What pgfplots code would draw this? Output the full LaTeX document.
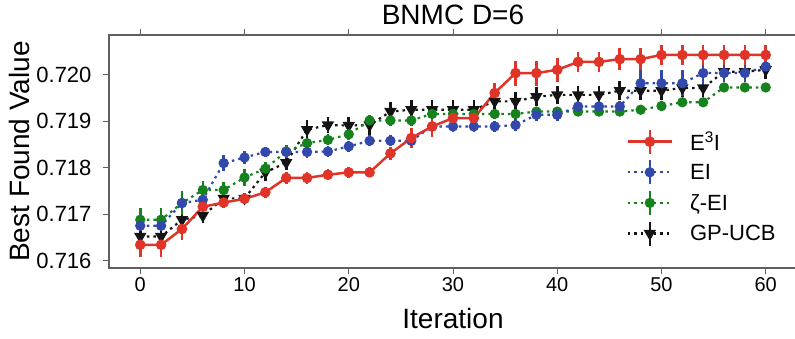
\documentclass[border=0pt]{standalone}
\usepackage{fontspec}
\setmainfont{Liberation Sans}
\usepackage{pgfplots}
\usepackage{pgfplotstable}
\pgfplotsset{compat=1.18}
\definecolor{cred}{RGB}{224,52,40}
\definecolor{cblue}{RGB}{50,72,170}
\definecolor{cgreen}{RGB}{22,130,30}
\definecolor{cblk}{RGB}{20,20,20}
\definecolor{axisgray}{RGB}{95,95,95}

\pgfplotstableread{
x y e
0 0.71634 0.00026
2 0.71634 0.00026
4 0.71668 0.00023
6 0.71716 0.00012
8 0.71725 0.00012
10 0.71733 0.00012
12 0.71747 0.00012
14 0.71778 0.00012
16 0.71778 0.00012
18 0.71785 0.00012
20 0.71790 0.00012
22 0.71790 0.00011
24 0.71831 0.00014
26 0.71864 0.00022
28 0.71889 0.00022
30 0.71907 0.00012
32 0.71907 0.00012
34 0.71961 0.00022
36 0.72004 0.00027
38 0.72004 0.00027
40 0.72011 0.00026
42 0.72028 0.00022
44 0.72028 0.00022
46 0.72034 0.00023
48 0.72034 0.00023
50 0.72043 0.00021
52 0.72043 0.00021
54 0.72043 0.00021
56 0.72043 0.00021
58 0.72043 0.00021
60 0.72043 0.00021
}\eei

\pgfplotstableread{
x y e
0 0.71675 0.00010
2 0.71675 0.00010
4 0.71724 0.00012
6 0.71731 0.00012
8 0.71810 0.00018
10 0.71822 0.00015
12 0.71834 0.00010
14 0.71834 0.00010
16 0.71834 0.00012
18 0.71835 0.00012
20 0.71846 0.00012
22 0.71858 0.00012
24 0.71858 0.00012
26 0.71858 0.00012
28 0.71889 0.00012
30 0.71889 0.00012
32 0.71889 0.00012
34 0.71889 0.00012
36 0.71892 0.00012
38 0.71914 0.00014
40 0.71914 0.00014
42 0.71932 0.00014
44 0.71932 0.00012
46 0.71932 0.00012
48 0.71982 0.00028
50 0.71982 0.00028
52 0.71982 0.00028
54 0.72004 0.00028
56 0.72004 0.00020
58 0.72004 0.00020
60 0.72018 0.00015
}\ei

\pgfplotstableread{
x y e
0 0.71688 0.00025
2 0.71688 0.00025
4 0.71724 0.00025
6 0.71752 0.00020
8 0.71752 0.00018
10 0.71779 0.00018
12 0.71798 0.00015
14 0.71835 0.00015
16 0.71853 0.00012
18 0.71860 0.00012
20 0.71872 0.00012
22 0.71902 0.00012
24 0.71902 0.00012
26 0.71902 0.00012
28 0.71916 0.00010
30 0.71916 0.00010
32 0.71916 0.00010
34 0.71916 0.00010
36 0.71916 0.00010
38 0.71921 0.00010
40 0.71921 0.00010
42 0.71921 0.00010
44 0.71921 0.00010
46 0.71921 0.00010
48 0.71925 0.00010
50 0.71933 0.00010
52 0.71941 0.00010
54 0.71941 0.00010
56 0.71973 0.00010
58 0.71973 0.00010
60 0.71973 0.00010
}\zei

\pgfplotstableread{
x y e
0 0.71652 0.00014
2 0.71652 0.00014
4 0.71688 0.00015
6 0.71697 0.00015
8 0.71734 0.00015
10 0.71734 0.00012
12 0.71790 0.00018
14 0.71811 0.00015
16 0.71882 0.00020
18 0.71892 0.00018
20 0.71891 0.00018
22 0.71892 0.00022
24 0.71921 0.00020
26 0.71925 0.00020
28 0.71925 0.00020
30 0.71925 0.00020
32 0.71925 0.00020
34 0.71943 0.00020
36 0.71943 0.00020
38 0.71953 0.00020
40 0.71957 0.00020
42 0.71957 0.00020
44 0.71957 0.00020
46 0.71966 0.00020
48 0.71966 0.00020
50 0.71966 0.00020
52 0.71972 0.00020
54 0.71972 0.00020
56 0.72007 0.00020
58 0.72007 0.00020
60 0.72011 0.00020
}\gp

\pgfplotsset{
  errleg/.style={legend image code/.code={
    \draw[##1, mark=none] (0pt,0pt) -- (44pt,0pt);
    \draw[##1, solid, mark=none, line width=2.6pt] (22pt,-12pt) -- (22pt,12pt);
    \draw[##1] plot coordinates {(22pt,0pt)};
  }},
}

\begin{document}
\begin{tikzpicture}
\useasboundingbox (0,0) rectangle (795pt,338pt);
\begin{axis}[
  at={(109pt,70pt)}, anchor=south west,
  scale only axis, width=688pt, height=233pt,
  xmin=-3, xmax=63, ymin=0.71584, ymax=0.72086,
  xtick={0,10,20,30,40,50,60},
  ytick={0.716,0.717,0.718,0.719,0.720},
  scaled y ticks=false,
  /pgf/number format/assume math mode=true,
  tick align=outside, major tick length=6pt,
  tick style={line width=1pt, color=axisgray},
  axis line style={line width=1.3pt, color=axisgray},
  ticklabel style={text=black},
  xticklabel style={font=\fontsize{20}{24}\selectfont},
  yticklabel style={font=\fontsize{22}{26}\selectfont, xshift=-8pt,
    /pgf/number format/.cd, fixed, precision=3, zerofill},
  xlabel={Iteration}, ylabel={Best Found Value},
  label style={font=\fontsize{28}{32}\selectfont},
  xlabel style={at={(axis description cs:0.5,-0.259)}, anchor=base},
  ylabel style={at={(axis description cs:-0.13,0.5)}, anchor=center},
  title={BNMC D=6},
  title style={font=\fontsize{28}{32}\selectfont, at={(axis description cs:0.5,1.02)}, anchor=base},
  legend style={at={(axis description cs:0.752,0.6)}, anchor=north west, draw=none, fill=none,
    font=\fontsize{22}{26}\selectfont, cells={anchor=west}, inner sep=0pt, row sep=4pt,
    /tikz/every odd column/.append style={column sep=15pt}},
  reverse legend,
  clip=false,
]
\addplot[color=cblk, line width=2.2pt, dash pattern=on 2.5pt off 4pt, mark=triangle*, mark size=5pt,
  mark options={solid, rotate=180}, errleg,
  error bars/.cd, y dir=both, y explicit, error bar style={line width=2.6pt, solid}, error mark=none]
  table[x=x, y=y, y error=e] {\gp};
\addlegendentry{GP-UCB}
\addplot[color=cgreen, line width=2.2pt, dash pattern=on 2.5pt off 4pt, mark=*, mark size=4pt,
  mark options={solid}, errleg,
  error bars/.cd, y dir=both, y explicit, error bar style={line width=2.6pt, solid}, error mark=none]
  table[x=x, y=y, y error=e] {\zei};
\addlegendentry{ζ-EI}
\addplot[color=cblue, line width=2.2pt, dash pattern=on 2.5pt off 4pt, mark=*, mark size=4pt,
  mark options={solid}, errleg,
  error bars/.cd, y dir=both, y explicit, error bar style={line width=2.6pt, solid}, error mark=none]
  table[x=x, y=y, y error=e] {\ei};
\addlegendentry{EI}
\addplot[color=cred, line width=2.5pt, solid, mark=*, mark size=4pt,
  mark options={solid}, errleg,
  error bars/.cd, y dir=both, y explicit, error bar style={line width=2.6pt, solid}, error mark=none]
  table[x=x, y=y, y error=e] {\eei};
\addlegendentry{E\textsuperscript{3}I}
\end{axis}
\end{tikzpicture}
\end{document}
